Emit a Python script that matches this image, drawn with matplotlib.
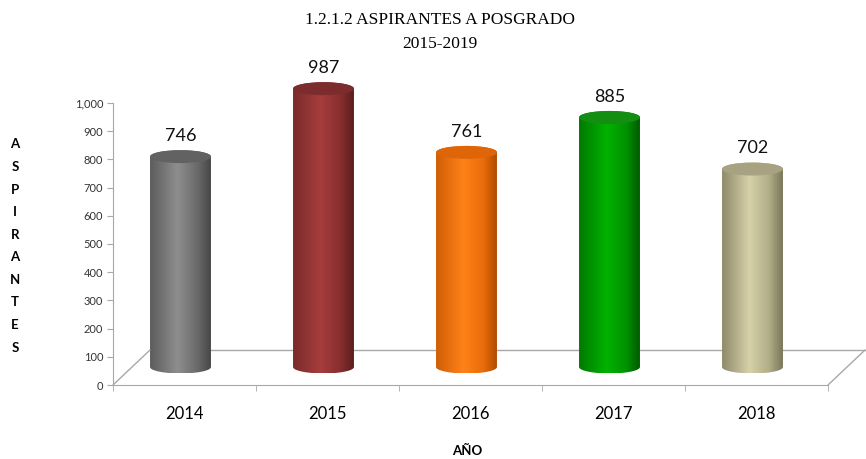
import matplotlib
matplotlib.use('Agg')
import matplotlib.pyplot as plt
import numpy as np
from matplotlib.colors import LinearSegmentedColormap
from matplotlib.patches import Ellipse, ConnectionPatch
from matplotlib.path import Path
from matplotlib.transforms import ScaledTranslation
from matplotlib.ticker import FuncFormatter

# datos
anios = ['2014', '2015', '2016', '2017', '2018']
aspirantes = [746, 987, 761, 885, 702]

# colores de cada cilindro: borde izq, brillo, medio der, borde der, tapa
colores = [
    ('#5c5c5c', '#8e8e8e', '#6a6a6a', '#474747', '#626262'),
    ('#7a2a2a', '#a73d3d', '#882e2e', '#5a1e1e', '#7c2c2c'),
    ('#d05e06', '#ff8218', '#e86c0a', '#b04c02', '#de6608'),
    ('#007a00', '#00b200', '#009200', '#005a00', '#138e13'),
    ('#8e8a6a', '#d6d1a8', '#b0ac88', '#7a7659', '#a6a282'),
]

fig = plt.figure(figsize=(8.66, 4.59), dpi=100)
ax = fig.add_axes([113 / 866, 74 / 459, 715 / 866, 282 / 459])
ax.set_xlim(-0.5, 4.5)
ax.set_ylim(0, 1000)

# desplazamiento de los cilindros y del fondo (efecto 3D)
bar_trans = ax.transData + ScaledTranslation(-4 / 100, 18 / 100, fig.dpi_scale_trans)
back_trans = ax.transData + ScaledTranslation(37 / 100, 35 / 100, fig.dpi_scale_trans)

gris = '#a8a8a8'

# piso: linea del fondo y diagonales
ax.plot([-0.5, 4.5], [0, 0], color=gris, lw=1, transform=back_trans, clip_on=False, zorder=1)
for xe in (-0.5, 4.5):
    con = ConnectionPatch(xyA=(xe, 0), coordsA=ax.transData, xyB=(xe, 0), coordsB=back_trans,
                          color=gris, lw=1, zorder=1)
    con.set_clip_on(False)
    fig.add_artist(con)

r = 0.213   # radio del cilindro (en categorias)
e = 23      # semieje vertical de la elipse (en unidades de datos)
grad = np.linspace(0, 1, 256).reshape(1, -1)

for i, (v, col) in enumerate(zip(aspirantes, colores)):
    izq, brillo, medio, der, tapa = col
    cmap = LinearSegmentedColormap.from_list(
        'cil%d' % i, [(0, izq), (0.45, brillo), (0.78, medio), (1, der)])

    t1 = np.linspace(np.pi, 2 * np.pi, 60)
    t2 = np.linspace(0, np.pi, 60)
    xs = np.concatenate([i + r * np.cos(t1), i + r * np.cos(t2)])
    ys = np.concatenate([e * np.sin(t1), v + e * np.sin(t2)])
    verts = np.column_stack([xs, ys])
    verts = np.vstack([verts, verts[:1]])
    cuerpo = Path(verts, closed=True)

    im = ax.imshow(grad, cmap=cmap, extent=[i - r, i + r, -e, v + e],
                   aspect='auto', interpolation='bilinear', zorder=3)
    im.set_transform(bar_trans)
    im.set_clip_box(fig.bbox)
    im.set_clip_path(cuerpo, bar_trans)

    ax.add_patch(Ellipse((i, v), 2 * r, 2 * e, transform=bar_trans, clip_on=False,
                         facecolor=tapa, edgecolor='none', zorder=4))

    ax.annotate(str(v), xy=(i, v), xycoords=bar_trans, xytext=(0, 15),
                textcoords='offset points', ha='center', va='center',
                fontsize=13, family='Lato', color='#111111', zorder=5)

ax.set_xlim(-0.5, 4.5)
ax.set_ylim(0, 1000)

ax.spines['top'].set_visible(False)
ax.spines['right'].set_visible(False)
ax.spines['left'].set_color(gris)
ax.spines['bottom'].set_color(gris)

ax.set_yticks(np.arange(0, 1001, 100))
ax.yaxis.set_major_formatter(FuncFormatter(lambda y, p: '{:,}'.format(int(y))))
ax.tick_params(axis='y', length=4, color=gris, labelsize=8, labelcolor='#333333', pad=3)

ax.set_xticks(range(len(anios)))
ax.set_xticklabels(anios, family='Lato', fontsize=12)
ax.set_xticks(np.arange(-0.5, 5, 1), minor=True)
ax.tick_params(axis='x', which='major', length=0, pad=15)
ax.tick_params(axis='x', which='minor', length=4, color=gris)

for lab in ax.get_yticklabels():
    lab.set_family('Lato')

fig.text(0.508, 1 - 20 / 459, '1.2.1.2 ASPIRANTES A POSGRADO', ha='center', va='center',
         family='Liberation Serif', fontsize=12.5)
fig.text(0.508, 1 - 44 / 459, '2015-2019', ha='center', va='center',
         family='Liberation Serif', fontsize=12.5)

fig.text(467 / 866, 1 - 451 / 459, 'AÑO', ha='center', va='center',
         family='Lato', fontweight='bold', fontsize=9.5)
fig.text(15 / 866, 1 - 246 / 459, '\n'.join('ASPIRANTES'), ha='center', va='center',
         family='Lato', fontweight='bold', fontsize=9.5, linespacing=2.06)

fig.savefig('out.png', dpi=100)
